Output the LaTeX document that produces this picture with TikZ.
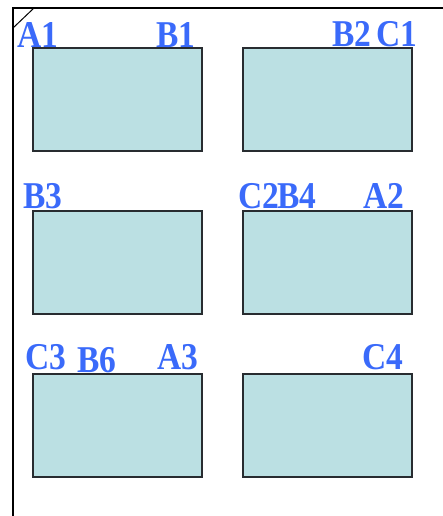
\documentclass[tikz,border=0pt]{standalone}
\usepackage{fontspec}
\setmainfont{Liberation Serif}
\definecolor{lbl}{RGB}{58,106,250}
\definecolor{boxfill}{RGB}{187,224,227}
\definecolor{boxline}{RGB}{40,44,48}
\newcommand{\tallt}[1]{\scalebox{1}[1.13]{#1}}
\begin{document}
\begin{tikzpicture}[x=1pt,y=-1pt,
  cell/.style={draw=boxline,line width=1.1pt,fill=boxfill},
  lab/.style={anchor=base west,inner sep=0pt,text=lbl,font=\fontsize{33.5}{33.5}\selectfont\bfseries}]
\useasboundingbox (0,0) rectangle (443,516);
% frame
\draw[line width=1.3pt] (13,516) -- (13,8) -- (443,8);
\draw[line width=1pt] (13,28) -- (34,8);
% boxes
\foreach \y [count=\r] in {48,211,374} {
  \path[cell] (33,\y) rectangle (202,\y+103);
  \path[cell] (243,\y) rectangle (412,\y+103);
}
% labels
\node[lab] (a1) at (17,48) {\tallt{A1}};
\node[lab] (b1) at (156,48) {\tallt{B1}};
\node[lab] (b2) at (332,47) {\tallt{B2}};
\node[lab] (c1) at (376,47) {\tallt{C1}};
\node[lab] (b3) at (23,208) {\tallt{B3}};
\node[lab] (c2) at (238,208) {\tallt{C2}};
\node[lab] (b4) at (277,208) {\tallt{B4}};
\node[lab] (a2) at (363,208) {\tallt{A2}};
\node[lab] (c3) at (25,369) {\tallt{C3}};
\node[lab] (b6) at (77,372) {\tallt{B6}};
\node[lab] (a3) at (157,369) {\tallt{A3}};
\node[lab] (c4) at (362,369) {\tallt{C4}};
\end{tikzpicture}
\end{document}
